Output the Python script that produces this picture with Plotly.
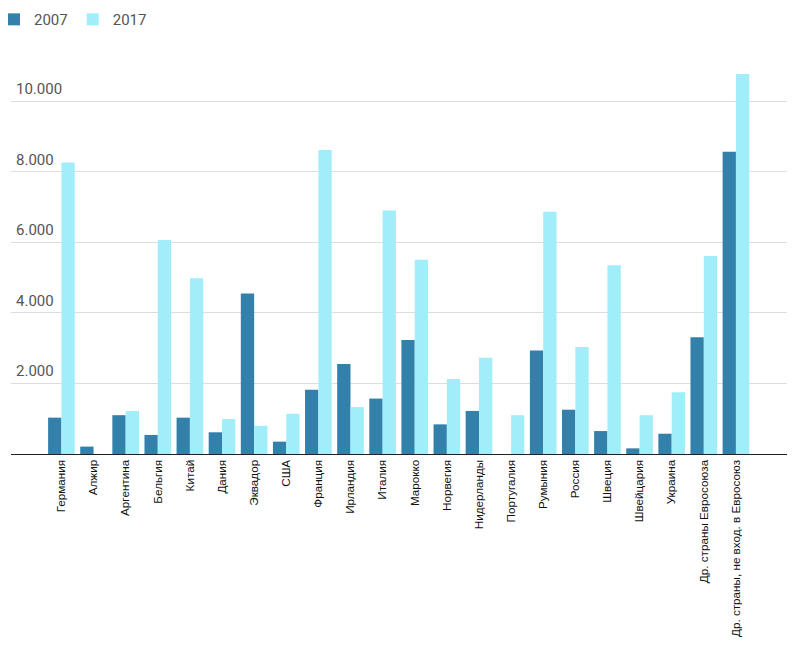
import plotly.graph_objects as go

categories = ["Германия", "Алжир", "Аргентина", "Бельгия", "Китай", "Дания", "Эквадор", "США",
              "Франция", "Ирландия", "Италия", "Марокко", "Норвегия", "Нидерланды", "Португалия",
              "Румыния", "Россия", "Швеция", "Швейцария", "Украина", "Др. страны Евросоюза",
              "Др. страны, не вход. в Евросоюз"]
values_2007 = [1030, 210, 1100, 540, 1030, 615, 4550, 350, 1820, 2550, 1570, 3230, 840, 1220, 0,
               2930, 1255, 650, 160, 575, 3305, 8565]
values_2017 = [8260, 0, 1220, 6060, 4980, 990, 800, 1140, 8610, 1330, 6900, 5500, 2125, 2730, 1100,
               6860, 3030, 5345, 1100, 1750, 5610, 10765]
y_tickvals = [2000, 4000, 6000, 8000, 10000]
y_ticktext = ["2.000", "4.000", "6.000", "8.000", "10.000"]

fig = go.Figure()
fig.add_trace(go.Bar(name="2007", x=categories, y=values_2007, marker_color="#3381ab",
                     marker_line_width=0))
fig.add_trace(go.Bar(name="2017", x=categories, y=values_2017, marker_color="#a1eefa",
                     marker_line_width=0))

# y tick labels sit inside the plot, above their gridlines
for v, t in zip(y_tickvals, y_ticktext):
    fig.add_annotation(x=0, xref="paper", y=v, yref="y", text=t, showarrow=False,
                       xanchor="left", yanchor="bottom", xshift=3, yshift=1,
                       font=dict(family="Roboto", size=15, color="#555555"))

# page is offset by the 8px default body margin, so the figure is 792x639
fig.update_layout(
    width=792, height=639,
    margin=dict(l=3, r=13, t=0, b=193, autoexpand=False),
    paper_bgcolor="white", plot_bgcolor="white",
    barmode="group", bargap=0.17, bargroupgap=0,
    showlegend=True,
    legend=dict(orientation="h", x=-0.0219, xanchor="left", y=1.011, yanchor="top",
                font=dict(family="Roboto", size=15, color="#555555"),
                itemwidth=30, traceorder="normal", bgcolor="rgba(0,0,0,0)"),
    xaxis=dict(
        range=[-1.57, 22.59], automargin=False,
        tickangle=-90, showline=True, linecolor="#222222", linewidth=1.3,
        showgrid=False, ticks="",
        tickfont=dict(family="Liberation Sans, Arial", size=11.7, color="#111111"),
    ),
    yaxis=dict(
        range=[0, 12635], tickvals=y_tickvals, automargin=False,
        showgrid=True, gridcolor="#dddddd", gridwidth=1, zeroline=False,
        showticklabels=False, showline=False,
    ),
)

fig.write_html("out.html")
